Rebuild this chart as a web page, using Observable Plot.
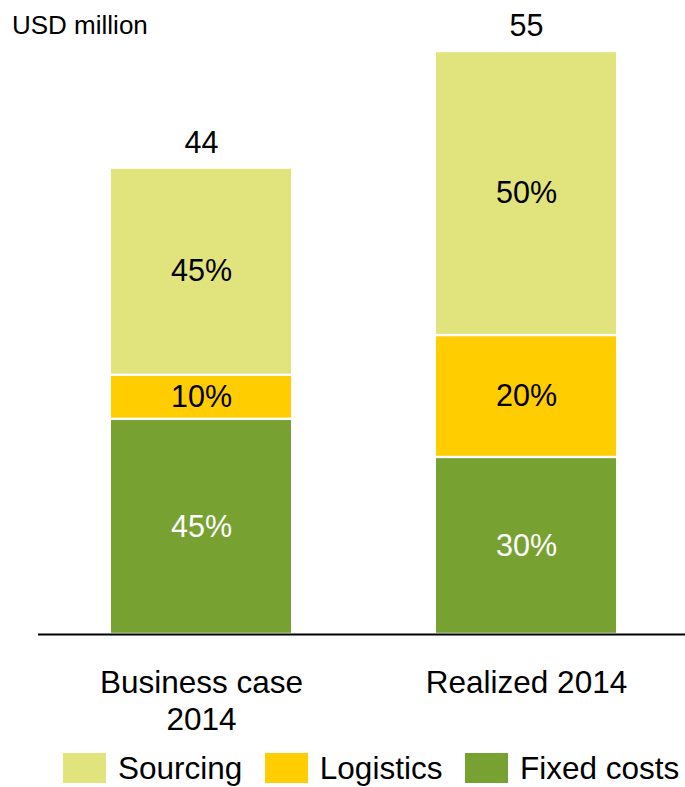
<!DOCTYPE html>
<html><head><meta charset="utf-8">
<script src="https://cdn.jsdelivr.net/npm/d3@7"></script>
<script src="https://cdn.jsdelivr.net/npm/@observablehq/plot@0.6"></script>
<style>
body{margin:0;background:#fff;font-family:"Liberation Sans",Arial,sans-serif;}
#wrap{position:relative;width:685px;height:787px;overflow:hidden;background:#fff}
#unit{position:absolute;left:12px;top:12px;font-size:26px;line-height:26px;color:#000;white-space:nowrap}
#legend{position:absolute;left:63px;top:750px;height:36px;display:flex;align-items:center;font-size:31.5px;line-height:36px;color:#000;white-space:nowrap;width:700px}
.item{display:flex;align-items:center;margin-right:22.5px;flex-shrink:0;white-space:nowrap}
.sw{width:43px;height:30px;margin-right:12px;flex-shrink:0}
</style></head><body>
<div id="wrap"><div id="chart"></div><div id="unit">USD million</div><div id="legend"></div></div>
<script>
const categories = ["Business case 2014", "Realized 2014"];
const categoryLabels = ["Business case\n2014", "Realized 2014"];
const totals = [44, 55];
const series = ["Sourcing", "Logistics", "Fixed costs"];
const seriesColors = ["#E1E47C", "#FFCD00", "#77A232"];
// segment sizes in USD million
const sourcingValues = [19.55, 26.8];
const logisticsValues = [4.15, 11.5];
const fixedValues = [20.3, 16.7];
// percentage labels printed in the segments
const sourcingPct = [45, 50];
const logisticsPct = [10, 20];
const fixedPct = [45, 30];

const valuesBySeries = {"Sourcing": sourcingValues, "Logistics": logisticsValues, "Fixed costs": fixedValues};
const pctBySeries = {"Sourcing": sourcingPct, "Logistics": logisticsPct, "Fixed costs": fixedPct};
const rows = [];
categories.forEach((c, i) => {
  series.forEach(s => {
    rows.push({category: c, series: s, pct: pctBySeries[s][i], value: valuesBySeries[s][i]});
  });
});
const totalRows = categories.map((c, i) => ({category: c, total: totals[i]}));
const labelOf = new Map(categories.map((c, i) => [c, categoryLabels[i]]));
const stackOrder = ["Fixed costs", "Logistics", "Sourcing"];

const chart = Plot.plot({
  width: 685,
  height: 745,
  marginTop: 51,
  marginBottom: 111,
  marginLeft: 38,
  marginRight: 0,
  style: {fontFamily: "'Liberation Sans', Arial, sans-serif", background: "white", color: "black"},
  x: {domain: categories, paddingInner: 0.447, paddingOuter: 0.2175, align: 0.516},
  y: {domain: [0, 55], axis: null},
  color: {domain: series, range: seriesColors},
  marks: [
    Plot.barY(rows, Plot.stackY({order: stackOrder}, {x: "category", y: "value", z: "series", fill: "series", insetTop: 1.2, insetBottom: 1.2})),
    Plot.text(rows, Plot.stackY({order: stackOrder}, {x: "category", y: "value", z: "series", text: d => d.pct + "%", fontSize: 30.5, fill: d => d.series === "Fixed costs" ? "white" : "black"})),
    Plot.text(totalRows, {x: "category", y: "total", text: d => String(d.total), fontSize: 30.5, dy: -25, fill: "black"}),
    Plot.ruleY([0], {stroke: "black", strokeWidth: 2}),
    Plot.axisX({tickSize: 0, tickPadding: 33, fontSize: 31.5, lineHeight: 1.16, tickFormat: d => labelOf.get(d), label: null, fill: "black"})
  ]
});
document.getElementById("chart").appendChild(chart);

const legend = document.getElementById("legend");
series.forEach((s, i) => {
  const item = document.createElement("div");
  item.className = "item";
  const sw = document.createElement("div");
  sw.className = "sw";
  sw.style.background = seriesColors[i];
  const t = document.createElement("span");
  t.textContent = s;
  item.appendChild(sw); item.appendChild(t);
  legend.appendChild(item);
});
</script>
</body></html>
